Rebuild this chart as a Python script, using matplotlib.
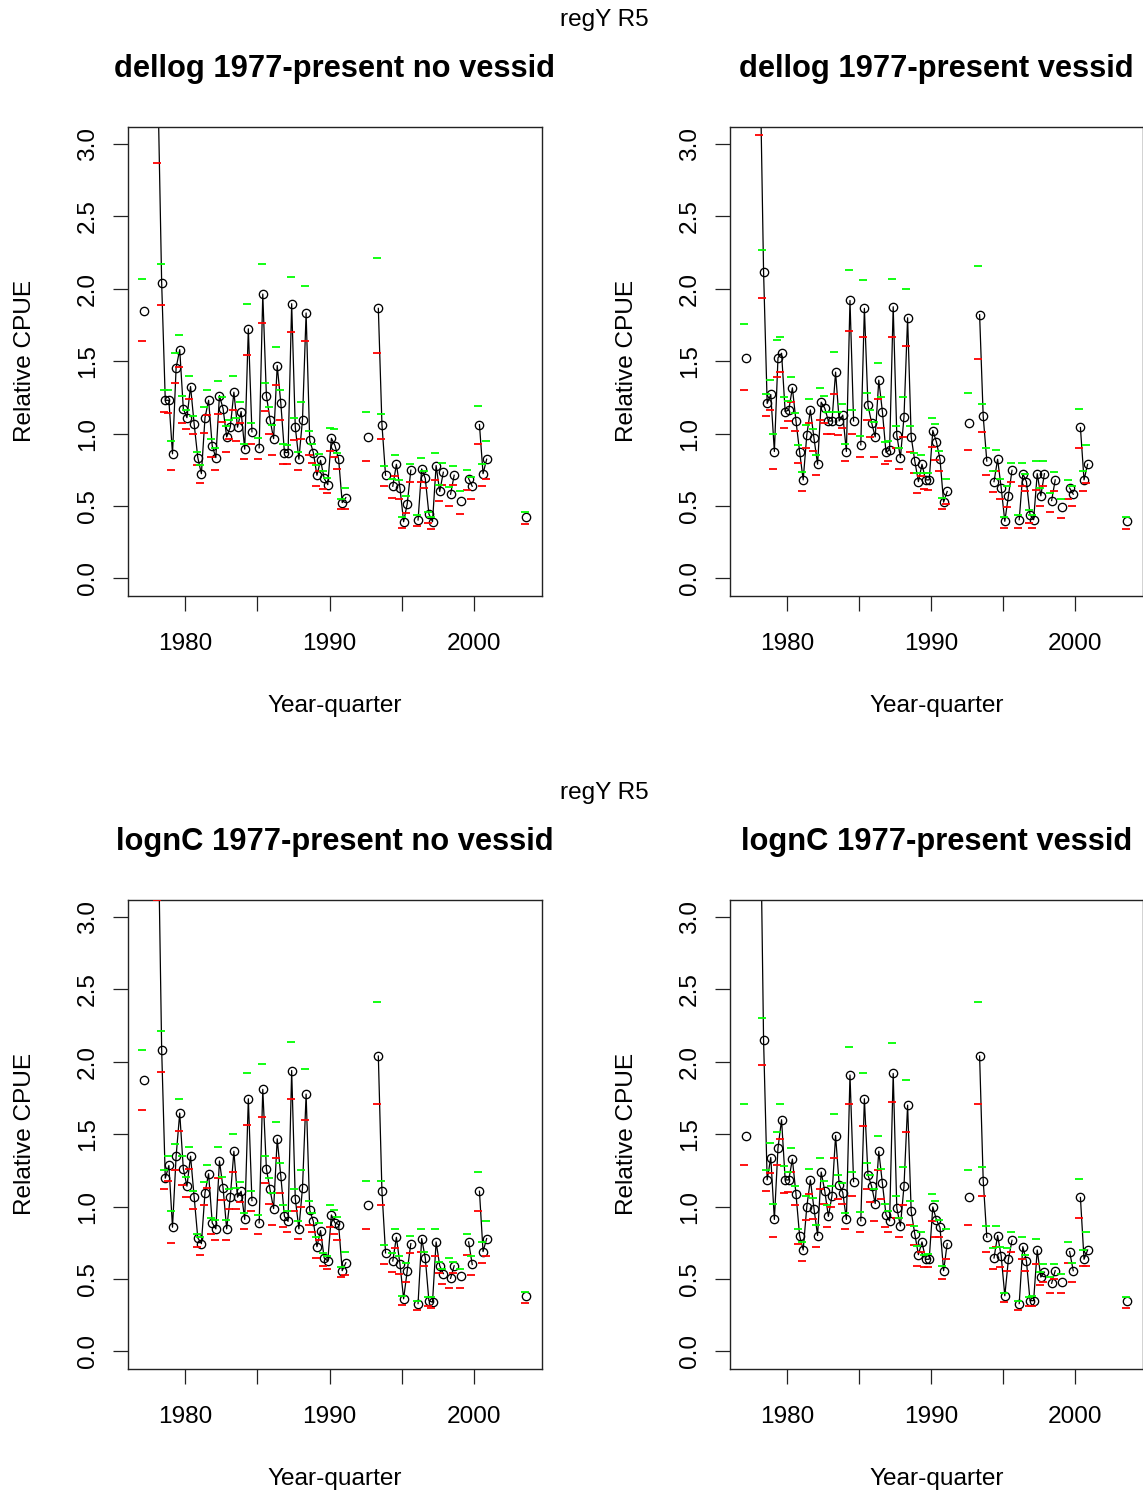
import numpy as np
import matplotlib
matplotlib.use("Agg")
import matplotlib.pyplot as plt

plt.rcParams['font.family'] = ['Liberation Sans', 'DejaVu Sans']

# ---------------- data ----------------
yq = [1977.125,
      1978.125, 1978.375, 1978.625, 1978.875,
      1979.125, 1979.375, 1979.625, 1979.875,
      1980.125, 1980.375, 1980.625, 1980.875,
      1981.125, 1981.375, 1981.625, 1981.875,
      1982.125, 1982.375, 1982.625, 1982.875,
      1983.125, 1983.375, 1983.625, 1983.875,
      1984.125, 1984.375, 1984.625,
      1985.125, 1985.375, 1985.625, 1985.875,
      1986.125, 1986.375, 1986.625, 1986.875,
      1987.125, 1987.375, 1987.625, 1987.875,
      1988.125, 1988.375, 1988.625, 1988.875,
      1989.125, 1989.375, 1989.625, 1989.875,
      1990.125, 1990.375, 1990.625, 1990.875,
      1991.125,
      1992.625,
      1993.375, 1993.625, 1993.875,
      1994.375, 1994.625, 1994.875, 1995.125, 1995.375, 1995.625,
      1996.125, 1996.375, 1996.625, 1996.875, 1997.125, 1997.375, 1997.625, 1997.875,
      1998.375, 1998.625,
      1999.125,
      1999.625, 1999.875,
      2000.375, 2000.625, 2000.875,
      2003.625]

# Panel 1: dellog 1977-present no vessid
p1_idx = [1.85,
          3.35, 2.04, 1.23, 1.23,
          0.86, 1.455, 1.58, 1.17,
          1.11, 1.325, 1.065, 0.834,
          0.723, 1.11, 1.23, 0.915,
          0.834, 1.263, 1.173, 0.977,
          1.044, 1.286, 1.044, 1.152,
          0.892, 1.724, 1.012,
          0.901, 1.964, 1.263, 1.097,
          0.965, 1.47, 1.208, 0.869,
          0.869, 1.897, 1.044, 0.823,
          1.097, 1.833, 0.954, 0.869,
          0.712, 0.815, 0.69, 0.647,
          0.968, 0.917, 0.823, 0.523,
          0.557,
          0.975,
          1.865, 1.062, 0.712,
          0.636, 0.788, 0.622, 0.391, 0.514, 0.747,
          0.403, 0.756, 0.69, 0.445, 0.391, 0.779, 0.60, 0.733,
          0.581, 0.712,
          0.537,
          0.689, 0.636,
          1.062, 0.723, 0.823,
          0.424]
p1_lo = [1.64,
         2.87, 1.89, 1.15, 1.14,
         0.745, 1.35, 1.46, 1.07,
         1.03, 1.24, 1.00, 0.78,
         0.657, 1.007, 1.13, 0.835,
         0.745, 1.136, 1.082, 0.876,
         0.961, 1.164, 0.952, 1.072,
         0.822, 1.544, 0.93,
         0.823, 1.766, 1.159, 0.994,
         0.85, 1.337, 1.097, 0.79,
         0.79, 1.70, 0.954, 0.745,
         0.965, 1.64, 0.85, 0.80,
         0.64, 0.74, 0.62, 0.59,
         0.88, 0.84, 0.755, 0.481,
         0.48,
         0.811,
         1.556, 0.96, 0.636,
         0.557, 0.71, 0.55, 0.35, 0.448, 0.668,
         0.362, 0.668, 0.624, 0.383, 0.339, 0.677, 0.537, 0.645,
         0.50, 0.645,
         0.447,
         0.612, 0.547,
         0.93, 0.636, 0.689,
         0.374]
p1_hi = [2.07,
         3.9, 2.17, 1.30, 1.30,
         0.95, 1.556, 1.68, 1.26,
         1.16, 1.40, 1.12, 0.876,
         0.78, 1.182, 1.30, 0.962,
         0.90, 1.36, 1.256, 1.049,
         1.095, 1.40, 1.106, 1.215,
         0.93, 1.897, 1.07,
         0.966, 2.171, 1.348, 1.184,
         1.062, 1.60, 1.30, 0.93,
         0.92, 2.08, 1.106, 0.876,
         1.217, 2.02, 1.02, 0.93,
         0.78, 0.86, 0.74, 0.69,
         1.04, 1.03, 0.866, 0.546,
         0.626,
         1.15,
         2.215, 1.138, 0.776,
         0.687, 0.853, 0.677, 0.426, 0.571, 0.788,
         0.437, 0.833, 0.74, 0.461, 0.426, 0.866, 0.645, 0.80,
         0.634, 0.776,
         0.60,
         0.745, 0.70,
         1.19, 0.788, 0.952,
         0.459]

# Panel 2: dellog 1977-present vessid
p2_idx = [1.523,
          3.6, 2.118, 1.208, 1.27,
          0.876, 1.523, 1.555, 1.152,
          1.163, 1.316, 1.087, 0.876,
          0.68, 0.989, 1.163, 0.968,
          0.788, 1.217, 1.175, 1.087,
          1.087, 1.425, 1.087, 1.128,
          0.876, 1.92, 1.087,
          0.922, 1.865, 1.194, 1.076,
          0.977, 1.369, 1.152, 0.87,
          0.888, 1.876, 0.989, 0.834,
          1.115, 1.80, 0.977, 0.81,
          0.668, 0.788, 0.68, 0.68,
          1.021, 0.943, 0.823, 0.526,
          0.60,
          1.074,
          1.821, 1.118, 0.81,
          0.668, 0.823, 0.624, 0.394, 0.57, 0.746,
          0.405, 0.723, 0.668, 0.439, 0.405, 0.723, 0.57, 0.723,
          0.537, 0.68,
          0.493,
          0.624, 0.581,
          1.042, 0.68, 0.788,
          0.394]
p2_lo = [1.304,
         3.06, 1.94, 1.118, 1.16,
         0.755, 1.393, 1.426, 1.041,
         1.085, 1.217, 1.018, 0.80,
         0.60, 0.90, 1.076, 0.88,
         0.712, 1.097, 1.076, 1.0,
         1.0, 1.27, 0.99, 1.04,
         0.81, 1.71, 0.997,
         0.84, 1.666, 1.097, 0.977,
         0.84, 1.24, 1.04, 0.79,
         0.81, 1.666, 0.90, 0.755,
         0.977, 1.605, 0.876, 0.73,
         0.59, 0.71, 0.62, 0.61,
         0.91, 0.82, 0.744, 0.481,
         0.514,
         0.887,
         1.512, 1.008, 0.712,
         0.593, 0.74, 0.546, 0.35, 0.49, 0.668,
         0.35, 0.636, 0.60, 0.384, 0.35, 0.613, 0.50, 0.636,
         0.46, 0.60,
         0.415,
         0.55, 0.50,
         0.899, 0.60, 0.657,
         0.339]
p2_hi = [1.754,
         4.2, 2.268, 1.27, 1.37,
         0.996, 1.646, 1.667, 1.25,
         1.226, 1.393, 1.14, 0.92,
         0.733, 1.061, 1.24, 1.034,
         0.855, 1.314, 1.26, 1.15,
         1.15, 1.565, 1.15, 1.204,
         0.93, 2.127, 1.16,
         0.985, 2.06, 1.283, 1.16,
         1.08, 1.489, 1.25, 0.94,
         0.95, 2.07, 1.05, 0.90,
         1.25, 1.996, 1.05, 0.866,
         0.73, 0.85, 0.73, 0.73,
         1.106, 1.063, 0.877, 0.557,
         0.688,
         1.283,
         2.16, 1.204, 0.899,
         0.74, 0.887, 0.688, 0.427, 0.636, 0.80,
         0.439, 0.80, 0.723, 0.472, 0.439, 0.81, 0.624, 0.81,
         0.59, 0.733,
         0.546,
         0.678, 0.636,
         1.172, 0.744, 0.92,
         0.427]

# Panel 3: lognC 1977-present no vessid
p3_idx = [1.876,
          3.7, 2.084, 1.196, 1.284,
          0.857, 1.348, 1.646, 1.261,
          1.141, 1.348, 1.065, 0.784,
          0.744, 1.097, 1.227, 0.887,
          0.846, 1.315, 1.13, 0.846,
          1.065, 1.382, 1.065, 1.106,
          0.911, 1.745, 1.041,
          0.887, 1.81, 1.261, 1.118,
          0.986, 1.468, 1.208, 0.932,
          0.898, 1.94, 1.054, 0.846,
          1.13, 1.777, 0.975, 0.898,
          0.723, 0.834, 0.645, 0.624,
          0.942, 0.887, 0.876, 0.557,
          0.612,
          1.01,
          2.04, 1.106, 0.68,
          0.624, 0.788, 0.60, 0.363, 0.557, 0.744,
          0.33, 0.779, 0.645, 0.35, 0.339, 0.756, 0.591, 0.537,
          0.504, 0.591,
          0.52,
          0.756, 0.60,
          1.106, 0.689, 0.779,
          0.381]
p3_lo = [1.666,
         3.12, 1.932, 1.118, 1.18,
         0.745, 1.25, 1.523, 1.152,
         1.065, 1.261, 0.986, 0.723,
         0.668, 1.01, 1.128, 0.81,
         0.767, 1.196, 1.043, 0.767,
         0.986, 1.24, 0.986, 1.03,
         0.844, 1.567, 0.966,
         0.81, 1.622, 1.161, 1.021,
         0.876, 1.337, 1.097, 0.856,
         0.823, 1.743, 0.966, 0.776,
         0.997, 1.60, 0.876, 0.823,
         0.645, 0.767, 0.59, 0.567,
         0.856, 0.81, 0.767, 0.514,
         0.525,
         0.844,
         1.71, 1.01, 0.60,
         0.55, 0.712, 0.537, 0.32, 0.48, 0.677,
         0.286, 0.689, 0.59, 0.31, 0.298, 0.657, 0.54, 0.463,
         0.437, 0.54,
         0.437,
         0.668, 0.525,
         0.966, 0.612, 0.657,
         0.334]
p3_hi = [2.084,
         4.4, 2.215, 1.25, 1.348,
         0.966, 1.433, 1.743, 1.348,
         1.204, 1.415, 1.106, 0.81,
         0.788, 1.172, 1.29, 0.919,
         0.91, 1.415, 1.204, 0.91,
         1.118, 1.50, 1.128, 1.172,
         0.954, 1.92, 1.106,
         0.942, 1.985, 1.348, 1.196,
         1.097, 1.587, 1.303, 1.01,
         0.966, 2.139, 1.118, 0.90,
         1.25, 1.952, 1.041, 0.954,
         0.788, 0.887, 0.677, 0.66,
         1.01, 0.976, 0.93, 0.58,
         0.688,
         1.18,
         2.41, 1.18, 0.733,
         0.677, 0.844, 0.657, 0.384, 0.612, 0.80,
         0.35, 0.844, 0.689, 0.374, 0.374, 0.844, 0.62, 0.571,
         0.645, 0.62,
         0.571,
         0.81, 0.657,
         1.24, 0.756, 0.90,
         0.41]

# Panel 4: lognC 1977-present vessid
p4_idx = [1.491,
          4.0, 2.15, 1.184, 1.339,
          0.911, 1.404, 1.60, 1.184,
          1.184, 1.328, 1.087, 0.80,
          0.70, 0.998, 1.184, 0.986,
          0.80, 1.239, 1.106, 0.932,
          1.076, 1.491, 1.152, 1.097,
          0.911, 1.909, 1.172,
          0.901, 1.745, 1.217, 1.141,
          1.021, 1.382, 1.161, 0.944,
          0.901, 1.92, 0.99, 0.866,
          1.141, 1.701, 0.966, 0.81,
          0.668, 0.756, 0.636, 0.636,
          0.998, 0.91, 0.856, 0.557,
          0.744,
          1.063,
          2.04, 1.18, 0.788,
          0.645, 0.80, 0.657, 0.384, 0.636, 0.767,
          0.33, 0.723, 0.624, 0.35, 0.35, 0.70, 0.513, 0.547,
          0.47, 0.557,
          0.481,
          0.689, 0.557,
          1.063, 0.636, 0.70,
          0.35]
p4_lo = [1.284,
         3.4, 1.976, 1.106, 1.23,
         0.788, 1.284, 1.47, 1.097,
         1.10, 1.24, 1.01, 0.744,
         0.624, 0.91, 1.085, 0.911,
         0.723, 1.118, 1.021, 0.856,
         0.998, 1.337, 1.054, 1.021,
         0.846, 1.71, 1.074,
         0.823, 1.556, 1.118, 1.03,
         0.898, 1.25, 1.054, 0.856,
         0.823, 1.722, 0.922, 0.788,
         1.01, 1.512, 0.876, 0.733,
         0.59, 0.689, 0.58, 0.58,
         0.898, 0.788, 0.788, 0.503,
         0.636,
         0.876,
         1.71, 1.074, 0.689,
         0.57, 0.723, 0.58, 0.339, 0.557, 0.689,
         0.286, 0.636, 0.557, 0.31, 0.31, 0.60, 0.46, 0.48,
         0.405, 0.503,
         0.405,
         0.612, 0.48,
         0.922, 0.59, 0.59,
         0.296]
p4_hi = [1.71,
         4.7, 2.302, 1.25, 1.436,
         1.021, 1.512, 1.71, 1.28,
         1.24, 1.404, 1.14, 0.846,
         0.756, 1.07, 1.259, 1.061,
         0.876, 1.337, 1.18, 1.01,
         1.14, 1.643, 1.217, 1.161,
         0.954, 2.105, 1.239,
         0.963, 1.92, 1.303, 1.217,
         1.118, 1.489, 1.259, 1.021,
         0.966, 2.127, 1.074, 0.922,
         1.272, 1.876, 1.041, 0.866,
         0.73, 0.823, 0.668, 0.67,
         1.085, 1.04, 0.91, 0.59,
         0.844,
         1.25,
         2.41, 1.27, 0.866,
         0.712, 0.866, 0.723, 0.405, 0.712, 0.823,
         0.35, 0.788, 0.668, 0.374, 0.384, 0.776, 0.546, 0.60,
         0.514, 0.60,
         0.537,
         0.756, 0.612,
         1.19, 0.70, 0.823,
         0.374]

titles = ["dellog 1977-present no vessid", "dellog 1977-present vessid",
          "lognC 1977-present no vessid", "lognC 1977-present vessid"]
super_title = "regY R5"
xlab = "Year-quarter"
ylab = "Relative CPUE"
xtick_vals = [1980, 1985, 1990, 1995, 2000]
xtick_labs = ["1980", "", "1990", "", "2000"]
ytick_vals = [0.0, 0.5, 1.0, 1.5, 2.0, 2.5, 3.0]
ytick_labs = ["0.0", "0.5", "1.0", "1.5", "2.0", "2.5", "3.0"]

panels = [(p1_idx, p1_lo, p1_hi), (p2_idx, p2_lo, p2_hi),
          (p3_idx, p3_lo, p3_hi), (p4_idx, p4_lo, p4_hi)]

# ---------------- layout ----------------
W, H = 1143, 1492
fig = plt.figure(figsize=(W / 100, H / 100), dpi=100)

def fx(px):
    return px / W

def fy(py):
    return 1 - py / H

box_w = 413.4
box_h = 469.0
lefts = [128.3, 730.3]
bottoms = [595.7, 1368.7]
row_off = [0, 773]

FS = 17.6
TFS = 22.2

for i, (idx, lo, hi) in enumerate(panels):
    r, c = divmod(i, 2)
    w = box_w if c == 0 else 412.2
    ax = fig.add_axes([fx(lefts[c]), fy(bottoms[r]), fx(w), box_h / H])
    t = np.array(yq, dtype=float)
    v = np.array(idx, dtype=float)
    xs, ys = [], []
    for j in range(len(t)):
        if j > 0 and t[j] - t[j - 1] > 0.3:
            xs.append(np.nan)
            ys.append(np.nan)
        xs.append(t[j])
        ys.append(v[j])
    ax.plot(xs, ys, color='black', lw=0.9, zorder=2)
    ax.plot(t, v, ls='none', marker='o', ms=6.0, mfc='none', mec='black',
            mew=0.95, zorder=3)
    ax.plot(t - 0.08, lo, ls='none', marker='_', ms=5.6, mew=1.3, color='#FF0000', zorder=4)
    ax.plot(t - 0.08, hi, ls='none', marker='_', ms=5.6, mew=1.3, color='#00FF00', zorder=4)

    ax.set_xlim(1976.065, 2004.685)
    ax.set_ylim(-0.12, 3.12)
    ax.set_xticks(xtick_vals)
    ax.set_xticklabels(xtick_labs)
    ax.set_yticks(ytick_vals)
    ax.set_yticklabels(ytick_labs, rotation=90, va='center')
    ax.tick_params(axis='both', length=10.8, width=0.9, labelsize=FS, color='#222222')
    ax.tick_params(axis='x', pad=16)
    ax.tick_params(axis='y', pad=10.5)
    for s in ax.spines.values():
        s.set_linewidth(1.0)
        s.set_color('#222222')

    cx = lefts[c] + w / 2
    fig.text(fx(cx), fy(69 + row_off[r]), titles[i], ha='center', va='center',
             fontsize=TFS, fontweight='bold')
    fig.text(fx(cx), fy(706 + row_off[r]), xlab, ha='center', va='center', fontsize=FS)
    fig.text(fx(lefts[c] - 103), fy(361 + row_off[r]), ylab, ha='center', va='center',
             rotation=90, fontsize=FS)

for r in range(2):
    fig.text(fx(604), fy(20 + row_off[r]), super_title, ha='center', va='center', fontsize=FS)

fig.savefig("out.png", dpi=100, facecolor='white')
